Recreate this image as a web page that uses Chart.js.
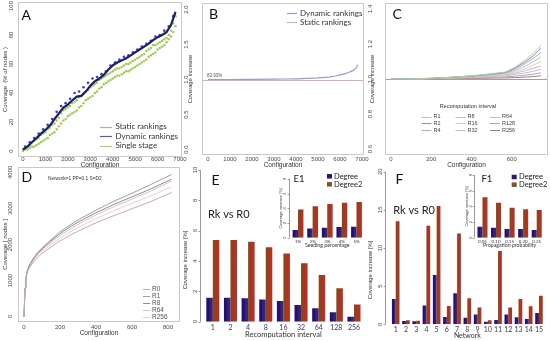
<!DOCTYPE html>
<html><head><meta charset="utf-8">
<script src="https://cdn.jsdelivr.net/npm/chart.js@4.4.1/dist/chart.umd.min.js"></script>
<style>
html,body{margin:0;padding:0;background:#fff;overflow:hidden}
#wrap{position:relative;width:550px;height:341px;background:#fff}
#wrap canvas{position:absolute;left:0;top:0;width:550px;height:341px}
</style></head><body>
<div id="wrap">
<canvas id="cA" width="550" height="341"></canvas>
<canvas id="cB" width="550" height="341"></canvas>
<canvas id="cC" width="550" height="341"></canvas>
<canvas id="cD" width="550" height="341"></canvas>
<canvas id="cE" width="550" height="341"></canvas>
<canvas id="cF" width="550" height="341"></canvas>
<canvas id="cE1" width="550" height="341"></canvas>
<canvas id="cF1" width="550" height="341"></canvas>
</div>
<script>
// ---------------- DATA ----------------
// Panel A
const aConfigs = [0,200,400,600,800,1000,1200,1400,1600,1800,2000,2200,2400,2600,2800,3000,3200,3400,3600,3800,4000,4200,4400,4600,4800,5000,5200,5400,5600,5800,6000,6200,6400,6600,6800];
const aDynamic = [1,3,6,9,12,14.5,17.5,22,26,30,32,35,37.5,38,41,45,48,50,52.5,56,59,61,62.5,64,66,68,70,72,74,76.5,78.5,80,82,87,96];
const aStatic  = [1,3,5.5,8.5,11.5,14,17,21,25,29,31.5,34.5,37,38,40.5,44.5,47.5,49.5,52,55.5,58.5,60.5,62,63.5,65.5,67.5,69.5,71.5,73.5,76,78,79.5,81.5,86,95];
const aDynPtConfigs = [100,300,500,700,900,1100,1300,1500,1700,1900,2100,2300,2500,2700,2900,3100,3300,3500,3700,3900,4100,4300,4500,4700,4900,5100,5300,5500,5700,5900,6100,6300,6500,6700];
const aDynPts = [3,6,9,12,15,18,22,27,31,33,36,40,41,44,47,50,51,53,55,59,61,63,65,66,68,70,72,74,76,79,80,83,86,93];
const aSingleConfigs = [0,100,200,300,400,500,600,700,800,900,1000,1100,1200,1300,1400,1500,1600,1700,1800,1900,2000,2100,2200,2300,2400,2500,2600,2700,2800,2900,3000,3100,3200,3300,3400,3500,3600,3700,3800,3900,4000,4100,4200,4300,4400,4500,4600,4700,4800,4900,5000,5100,5200,5300,5400,5500,5600,5700,5800,5900,6000,6100,6200,6300,6400,6500,6600,6700,6800];
const aSingleUpper = [1,2,3,4,6,7,8,9,11,12,13,15,16,18,19,21,23,26,28,29,30,31,33,34,35,37,38,40,41,42,44,45,46,47,49,50,51,52,53,54,55,56,57,57,58,59,60,60,61,62,63,64,65,66,67,69,70,71,73,73,74,75,76,77,78,80,83,88,93];
const aSingleLower = [0,1,1,2,3,3,4,5,6,7,8,9,11,12,13,15,17,19,21,22,24,25,26,27,28,30,31,33,35,36,37,38,40,41,43,44,46,47,48,49,50,51,52,52,53,54,55,55,56,57,58,59,60,61,62,63,65,66,67,68,70,71,72,73,75,77,79,82,86];
const aXTicks = [0,1000,2000,3000,4000,5000,6000,7000];
const aYTicks = [0,20,40,60,80,100];
const aNames = ['Static rankings','Dynamic rankings','Single stage'];

// Panel B
const bConfigs = [0,1000,2000,3000,3500,4000,4500,5000,5500,5800,6000,6200,6400,6600,6750,6800];
const bDynamic = [1.0,1.0,1.002,1.004,1.007,1.01,1.015,1.022,1.035,1.05,1.065,1.08,1.1,1.13,1.17,1.21];
const bStaticLevel = 1.0;
const bXTicks = [0,1000,2000,3000,4000,5000,6000,7000];
const bYTicks = [0,0.5,1,1.5,2];
const bNames = ['Dynamic rankings','Static rankings'];

// Panel C
const cConfigs = [0,100,200,300,400,500,570,620,670,710,745];
const cR1   = [1.0,1.001,1.004,1.010,1.018,1.030,1.040,1.070,1.110,1.150,1.190];
const cR2   = [1.0,1.001,1.004,1.010,1.017,1.028,1.038,1.065,1.100,1.135,1.175];
const cR4   = [1.0,1.001,1.003,1.009,1.016,1.026,1.035,1.058,1.090,1.120,1.150];
const cR8   = [1.0,1.001,1.003,1.008,1.015,1.024,1.032,1.050,1.075,1.100,1.125];
const cR16  = [1.0,1.000,1.003,1.007,1.013,1.021,1.028,1.042,1.060,1.080,1.100];
const cR32  = [1.0,1.000,1.002,1.006,1.011,1.018,1.024,1.034,1.048,1.062,1.075];
const cR64  = [1.0,1.000,1.002,1.005,1.009,1.014,1.018,1.026,1.035,1.045,1.055];
const cR128 = [1.0,1.000,1.001,1.003,1.006,1.009,1.012,1.016,1.022,1.028,1.035];
const cR256 = [1.0,1.000,1.001,1.002,1.003,1.005,1.006,1.008,1.011,1.014,1.018];
const cNames = ['R1','R2','R4','R8','R16','R32','R64','R128','R256'];
const cBaseLevel = 1.0;
const cXTicks = [0,200,400,600];
const cYTicks = [0.6,0.8,1.0,1.2,1.4];

// Panel D
const dConfigs = [0,3,6,10,15,20,30,40,60,80,100,150,200,250,300,400,500,600,700,820];
const dR0   = [0,400,780,1020,1150,1250,1350,1430,1560,1660,1750,1930,2100,2240,2370,2600,2800,2990,3180,3440];
const dR1   = [0,400,800,1050,1200,1300,1420,1520,1680,1800,1900,2130,2350,2520,2680,2950,3200,3420,3650,3940];
const dR8   = [0,400,800,1050,1200,1300,1420,1510,1660,1780,1880,2100,2300,2470,2620,2880,3110,3320,3530,3810];
const dR64  = [0,400,800,1040,1190,1290,1400,1490,1640,1750,1850,2060,2250,2410,2560,2820,3050,3260,3470,3760];
const dR256 = [0,400,790,1030,1170,1270,1380,1460,1600,1710,1800,2000,2180,2330,2470,2720,2940,3140,3340,3600];
const dNames = ['R0','R1','R8','R64','R256'];
const dXTicks = [0,200,400,600,800];
const dYTicks = [0,1000,2000,3000,4000];

// Panel E
const eIntervals = ['1','2','4','8','16','32','64','128','256'];
const eDegree  = [1.58,1.58,1.54,1.47,1.36,1.10,0.88,0.62,0.33];
const eDegree2 = [5.38,5.38,5.27,4.90,4.50,3.85,3.08,2.20,1.14];
const eYTicks = [0,2,4,6,8,10];
// Panel E1
const e1Seeding = ['1%','2%','3%','4%','5%'];
const e1Degree  = [1.05,1.27,1.36,1.45,1.50];
const e1Degree2 = [3.86,4.30,4.60,4.77,4.86];
const e1YTicks = [0,2,4,6,8];
// Panel F
const fNetworks = ['1','2','3','4','5','6','7','8','9','10','11','12','13','14','15'];
const fDegree  = [3.3,0.44,0.4,2.45,6.46,0.96,4.06,0.87,1.3,0.35,0.57,1.27,0.92,0.7,1.48];
const fDegree2 = [13.5,0.52,0.48,12.9,15.5,2.4,11.9,3.4,2.2,0.52,9.6,2.2,3.3,2.36,3.75];
const fYTicks = [0,5,10,15,20];
// Panel F1
const f1Prob = ['0.05','0.10','0.15','0.20','0.25'];
const f1Degree  = [1.40,1.28,1.10,1.10,0.98];
const f1Degree2 = [5.15,4.47,3.83,3.62,3.53];
const f1YTicks = [0,2,4,6,8];
const barNames = ['Degree','Degree2'];

// ---------------- STYLE / HELPERS ----------------
const RF = "'Liberation Sans', Arial, sans-serif";
const LF = "Lato, 'Open Sans', sans-serif";
const mc = document.createElement('canvas').getContext('2d');
function tw(t, size, fam) { mc.font = size + 'px ' + fam; return mc.measureText(t).width; }
function zeroPad(s) { s.paddingLeft = 0; s.paddingRight = 0; s.paddingTop = 0; s.paddingBottom = 0; }
const pts = (xs, ys) => xs.map((x, i) => ({x: x, y: ys[i]}));

function yAxis(o) {
  const fmt = o.fmt || (v => String(v));
  const fam = o.tFam || RF;
  const wmax = Math.max(...o.ticks.map(v => tw(fmt(v), o.tSize, fam)));
  return {
    type: 'linear', position: 'left', min: o.min, max: o.max,
    grid: {display: false, drawTicks: false}, border: {display: false},
    afterBuildTicks: s => { s.ticks = o.ticks.map(v => ({value: v})); },
    afterFit: s => { s.width = o.right - o.left; zeroPad(s); },
    ticks: {
      autoSkip: false, minRotation: 90, maxRotation: 90, crossAlign: 'center',
      padding: o.right - wmax / 2 - o.tCenter,
      font: {size: o.tSize, family: fam}, color: o.tColor || '#4a4a4a',
      callback: v => fmt(v)
    },
    title: o.title ? {display: true, text: o.title, color: '#333',
      font: {size: o.ttSize, family: o.ttFam || RF},
      padding: {top: o.ttCenter - o.left - o.ttSize * 0.6, bottom: 0}} : {display: false}
  };
}
function xAxis(o) {
  const fmt = o.fmt || (v => String(v));
  const c = {
    type: o.type || 'linear', position: 'bottom',
    grid: {display: false, drawTicks: false}, border: {display: false},
    afterFit: s => { s.height = o.bottom - o.top; zeroPad(s); },
    ticks: {autoSkip: false, minRotation: 0, maxRotation: 0,
      padding: o.tCenter - o.top - o.tSize * 0.6,
      font: {size: o.tSize, family: o.tFam || RF}, color: o.tColor || '#4a4a4a'},
    title: {display: true, text: o.title, color: '#333', font: {size: o.ttSize, family: o.ttFam || RF},
      padding: {top: 0, bottom: o.bottom - o.ttCenter - o.ttSize * 0.6}}
  };
  if (c.type === 'linear') {
    c.min = o.min; c.max = o.max;
    c.afterBuildTicks = s => { s.ticks = o.ticks.map(v => ({value: v})); };
    c.ticks.callback = v => fmt(v);
  } else { c.offset = true; }
  return c;
}

const framePlugin = {id: 'frame', afterDatasetsDraw(ch, a, o) {
  if (!o.on) return;
  const c = ch.ctx, r = ch.chartArea;
  c.save(); c.strokeStyle = '#c9c9c9'; c.lineWidth = 1;
  c.strokeRect(Math.round(r.left) + 0.5, Math.round(r.top) + 0.5, Math.round(r.right - r.left) - 1, Math.round(r.bottom - r.top) - 1);
  c.restore();
}};
const hlinePlugin = {id: 'hline', beforeDatasetsDraw(ch, a, o) {
  if (o.value === undefined) return;
  const y = Math.round(ch.scales.y.getPixelForValue(o.value)) + 0.5, r = ch.chartArea, c = ch.ctx;
  c.save(); c.strokeStyle = o.color; c.lineWidth = 1;
  c.beginPath(); c.moveTo(r.left, y); c.lineTo(r.right, y); c.stroke(); c.restore();
}};
const axisLinePlugin = {id: 'axisline', afterDraw(ch, a, o) {
  if (o.offset === undefined) return;
  const ys = ch.scales.y, x = Math.round(ch.chartArea.left - o.offset) + 0.5, c = ch.ctx;
  const t = ys.ticks;
  c.save(); c.strokeStyle = '#9a9a9a'; c.lineWidth = 1; c.beginPath();
  c.moveTo(x, ys.getPixelForValue(t[0].value)); c.lineTo(x, ys.getPixelForValue(t[t.length - 1].value));
  t.forEach(tk => { const y = Math.round(ys.getPixelForValue(tk.value)) + 0.5; c.moveTo(x, y); c.lineTo(x - 2, y); });
  c.stroke(); c.restore();
}};
const textPlugin = {id: 'rtext', afterDraw(ch, a, o) {
  (o.items || []).forEach(it => {
    const c = ch.ctx; c.save();
    c.font = it.size + 'px ' + (it.fam || RF);
    c.fillStyle = it.color || '#222';
    c.textAlign = it.align || 'left'; c.textBaseline = it.base || 'middle';
    c.translate(it.x, it.y); if (it.rot) c.rotate(it.rot * Math.PI / 180);
    c.fillText(it.text, 0, 0); c.restore();
  });
}};
const legendPlugin = {id: 'rlegend', afterDraw(ch, a, o) {
  (o.items || []).forEach(it => {
    const c = ch.ctx; c.save();
    if (it.kind === 'box') { c.fillStyle = it.color; c.fillRect(it.sx, it.y - it.sh / 2, it.sw, it.sh); }
    else { c.strokeStyle = it.color; c.lineWidth = it.lw || 1; c.beginPath();
      c.moveTo(it.sx, Math.round(it.y) + 0.5); c.lineTo(it.sx + it.sw, Math.round(it.y) + 0.5); c.stroke(); }
    c.font = it.size + 'px ' + (it.fam || RF); c.fillStyle = it.tcolor || '#333';
    c.textAlign = 'left'; c.textBaseline = 'middle';
    c.fillText(it.text, it.tx, it.y); c.restore();
  });
}};
const PLUGS = [framePlugin, hlinePlugin, axisLinePlugin, textPlugin, legendPlugin];

function mk(id, type, data, scales, pad, popts) {
  return new Chart(document.getElementById(id), {
    type: type, data: data,
    options: {
      responsive: false, animation: false, devicePixelRatio: 1, events: [],
      layout: {padding: pad, autoPadding: false},
      scales: scales,
      plugins: Object.assign({legend: {display: false}, tooltip: {enabled: false}}, popts)
    },
    plugins: PLUGS
  });
}
function letter(t, x, y) { return {text: t, x: x, y: y, size: 14, fam: LF, color: '#111', base: 'alphabetic'}; }

// bar gradient (two-tone like the reference bars)
const CAT_PCT = 0.74;
function grad(c1, c2, di) {
  return function (ctx) {
    const ch = ctx.chart, xs = ch.scales.x;
    if (ctx.type !== 'data' || !xs || !ch.chartArea) return c1;
    const n = ch.data.labels.length;
    const cw = xs.width / n * CAT_PCT;
    const cx = xs.getPixelForValue(ctx.dataIndex);
    const x0 = cx - cw / 2 + di * cw / 2, x1 = x0 + cw / 2;
    const g = ch.ctx.createLinearGradient(x0, 0, x1, 0);
    g.addColorStop(0, c1); g.addColorStop(0.35, c1); g.addColorStop(0.65, c2); g.addColorStop(1, c2);
    return g;
  };
}
const DEG = ['#20136c', '#3a1f84'];
const DEG2 = ['#7c4a24', '#c9281d'];
function barSets(d1, d2) {
  return [
    {label: barNames[0], data: d1, backgroundColor: grad(DEG[0], DEG[1], 0), borderWidth: 0, categoryPercentage: CAT_PCT, barPercentage: 1},
    {label: barNames[1], data: d2, backgroundColor: grad(DEG2[0], DEG2[1], 1), borderWidth: 0, categoryPercentage: CAT_PCT, barPercentage: 1}
  ];
}
function barLegend(sx, y0, y1, tx) {
  return [
    {kind: 'box', color: '#2a1876', sx: sx, sw: 5, sh: 4.5, y: y0, tx: tx, text: barNames[0], size: 7.5, fam: LF, tcolor: '#222'},
    {kind: 'box', color: '#84502a', sx: sx, sw: 5, sh: 4.5, y: y1, tx: tx, text: barNames[1], size: 7.5, fam: LF, tcolor: '#222'}
  ];
}

// ---------------- PANEL A ----------------
const aCols = ['#c2a6b4', '#5a5ab0', '#a9d36a'];
mk('cA', 'scatter', {datasets: [
  {data: pts(aConfigs, aDynamic), showLine: true, borderColor: '#1d1f6b', borderWidth: 2.2, pointRadius: 0},
  {data: pts(aDynPtConfigs, aDynPts), pointRadius: 1.3, pointBackgroundColor: '#3d3dc6', pointBorderWidth: 0},
  {data: pts(aConfigs, aStatic), showLine: true, borderColor: '#b9a3b5', borderWidth: 1, pointRadius: 0},
  {data: pts(aSingleConfigs, aSingleUpper).concat(pts(aSingleConfigs, aSingleLower)), pointRadius: 1.2, pointBackgroundColor: '#9acb4c', pointBorderWidth: 0}
]}, {
  x: xAxis({top: 157, bottom: 170, min: -222.9, max: 7089.2, ticks: aXTicks, tSize: 6, tCenter: 159.7, title: 'Configuration', ttSize: 6.5, ttCenter: 165.3}),
  y: yAxis({left: 0, right: 18, min: -4.14, max: 102.76, ticks: aYTicks, tSize: 6, tCenter: 11.7, title: 'Coverage  (% of nodes )', ttSize: 6, ttCenter: 5})
}, {left: 0, top: 2, right: 368, bottom: 171}, {
  frame: {on: true},
  rtext: {items: [letter('A', 21.5, 19.5)]},
  rlegend: {items: aNames.map((n, i) => ({kind: 'line', color: aCols[i], lw: 1.2, sx: 100, sw: 12, y: [126.7, 136.3, 145.7][i], tx: 115.5, text: n, size: 8, fam: LF, tcolor: '#333'}))}
});

// ---------------- PANEL B ----------------
const bCols = ['#9b99d6', '#d3b3aa'];
mk('cB', 'scatter', {datasets: [
  {data: pts(bConfigs, bDynamic), showLine: true, borderColor: bCols[0], borderWidth: 1.2, pointRadius: 0}
]}, {
  x: xAxis({top: 155, bottom: 170, min: -272.7, max: 7090.9, ticks: bXTicks, tSize: 6, tCenter: 159.2, title: 'Configuration', ttSize: 6.5, ttCenter: 165.7}),
  y: yAxis({left: 180, right: 202, min: -0.0786, max: 2.093, ticks: bYTicks, fmt: v => v.toFixed(1), tSize: 6, tCenter: 186.5, title: 'Coverage increase', ttSize: 5.8, ttCenter: 190})
}, {left: 180, top: 3, right: 186, bottom: 171}, {
  frame: {on: true},
  hline: {value: bStaticLevel, color: bCols[1]},
  rtext: {items: [letter('B', 209, 19.3), {text: '83.93%', x: 207, y: 76, size: 4.5, color: '#555'}]},
  rlegend: {items: bNames.map((n, i) => ({kind: 'line', color: bCols[i], lw: 1.2, sx: 287, sw: 10, y: [13.3, 22.3][i], tx: 300, text: n, size: 8, fam: LF, tcolor: '#333'}))}
});

// ---------------- PANEL C ----------------
const cSeries = [cR1, cR2, cR4, cR8, cR16, cR32, cR64, cR128, cR256];
const cCols = ['#a6d49a', '#8592b5', '#b6a6c9', '#b6bfd9', '#c7e0a4', '#d9aebf', '#c3b8dc', '#aaaaaa', '#94839f'];
mk('cC', 'scatter', {datasets: cSeries.map((s, i) => ({data: pts(cConfigs, s), showLine: true, borderColor: cCols[i], borderWidth: 1, pointRadius: 0}))}, {
  x: xAxis({top: 155, bottom: 170, min: -29.8, max: 780.3, ticks: cXTicks, tSize: 6, tCenter: 159.3, title: 'Configuration', ttSize: 6.5, ttCenter: 165.7}),
  y: yAxis({left: 365, right: 385, min: 0.5657, max: 1.434, ticks: cYTicks, fmt: v => v.toFixed(1), tSize: 6, tCenter: 370.5, title: 'Coverage increase', ttSize: 5.8, ttCenter: 372})
}, {left: 365, top: 3, right: 2, bottom: 171}, {
  frame: {on: true},
  hline: {value: cBaseLevel, color: '#c7957f'},
  rtext: {items: [letter('C', 392.5, 19.3), {text: 'Recomputation interval', x: 468, y: 106, size: 5.5, align: 'center', color: '#333'}]},
  rlegend: {items: cNames.map((n, i) => {
    const col = Math.floor(i / 3), row = i % 3;
    const sx = [421.5, 455.5, 490][col];
    return {kind: 'line', color: cCols[i], sx: sx, sw: 10, y: [116.7, 123.3, 130][row], tx: sx + 12, text: n, size: 5.5, tcolor: '#444'};
  })}
});

// ---------------- PANEL D ----------------
const dSeries = [dR0, dR1, dR8, dR64, dR256];
const dCols = ['#c9a9b9', '#9e9ea8', '#8b88b3', '#d9c6a2', '#f0ccd6'];
mk('cD', 'scatter', {datasets: dSeries.map((s, i) => ({data: pts(dConfigs, s), showLine: true, borderColor: dCols[i], borderWidth: 1, pointRadius: 0}))}, {
  x: xAxis({top: 322, bottom: 341, min: -33.3, max: 866.7, ticks: dXTicks, tSize: 6, tCenter: 327.5, title: 'Configuration', ttSize: 6.5, ttCenter: 333.3}),
  y: yAxis({left: 0, right: 18, min: -146.8, max: 4146.8, ticks: dYTicks, tSize: 6, tCenter: 10.7, title: 'Coverage [ nodes ]', ttSize: 6, ttCenter: 5})
}, {left: 0, top: 167, right: 370, bottom: 0}, {
  frame: {on: true},
  rtext: {items: [letter('D', 21.5, 182.3), {text: 'Network=1 PP=0.1 S=D2', x: 48, y: 179, size: 4.8, color: '#333'}]},
  rlegend: {items: dNames.map((n, i) => ({kind: 'line', color: dCols[i], sx: 143, sw: 7, y: 289 + i * 7, tx: 152, text: n, size: 6.5, tcolor: '#555'}))}
});

// ---------------- PANEL E ----------------
mk('cE', 'bar', {labels: eIntervals, datasets: barSets(eDegree, eDegree2)}, {
  x: xAxis({type: 'category', top: 321.7, bottom: 341, tSize: 7, tFam: LF, tColor: '#3a3a55', tCenter: 328, title: 'Recomputation interval', ttSize: 7.5, ttFam: LF, ttCenter: 334.3}),
  y: yAxis({left: 180, right: 204, min: 0, max: 10, ticks: eYTicks, tSize: 6, tCenter: 195})
}, {left: 180, top: 170, right: 187.2, bottom: 0}, {
  axisline: {offset: 4},
  rtext: {items: [letter('E', 211.5, 185),
    {text: 'Rk vs R0', x: 208, y: 214, size: 11, fam: LF, color: '#222'},
    {text: 'Coverage increase [%]', x: 185.5, y: 260, size: 5.8, rot: -90, align: 'center', color: '#333'},
    {text: 'E1', x: 293.5, y: 178.5, size: 9.5, fam: LF, color: '#222'}]},
  rlegend: {items: barLegend(327, 176.3, 184.3, 334)}
});

// ---------------- PANEL F ----------------
mk('cF', 'bar', {labels: fNetworks, datasets: barSets(fDegree, fDegree2)}, {
  x: xAxis({type: 'category', top: 324.3, bottom: 341, tSize: 7, tFam: LF, tColor: '#3a3a55', tCenter: 329.3, title: 'Network', ttSize: 7, ttFam: LF, ttCenter: 335.3}),
  y: yAxis({left: 365, right: 390.6, min: 0, max: 20, ticks: fYTicks, tSize: 6, tCenter: 380})
}, {left: 365, top: 171.7, right: 5.9, bottom: 0}, {
  axisline: {offset: 5.5},
  rtext: {items: [letter('F', 395.5, 184.3),
    {text: 'Rk vs R0', x: 393.3, y: 210.7, size: 11, fam: LF, color: '#222'},
    {text: 'Coverage increase [%]', x: 370, y: 270, size: 5.8, rot: -90, align: 'center', color: '#333'},
    {text: 'F1', x: 481.5, y: 178.5, size: 9.5, fam: LF, color: '#222'}]},
  rlegend: {items: barLegend(511.7, 177, 184.7, 519)}
});

// ---------------- INSETS ----------------
mk('cE1', 'bar', {labels: e1Seeding, datasets: barSets(e1Degree, e1Degree2)}, {
  x: xAxis({type: 'category', top: 237.7, bottom: 250, tSize: 4.5, tFam: LF, tColor: '#3a3a55', tCenter: 241.7, title: 'Seeding percentage', ttSize: 5.2, ttFam: LF, ttCenter: 245.6}),
  y: yAxis({left: 276, right: 290.7, min: 0, max: 8, ticks: e1YTicks, tSize: 4, tCenter: 285, title: 'Coverage increase [%]', ttSize: 4, ttCenter: 281})
}, {left: 276, top: 179, right: 186.2, bottom: 91}, {axisline: {offset: 1.8}});

mk('cF1', 'bar', {labels: f1Prob, datasets: barSets(f1Degree, f1Degree2)}, {
  x: xAxis({type: 'category', top: 237.7, bottom: 250, tSize: 4.5, tFam: LF, tColor: '#3a3a55', tCenter: 241.7, title: 'Propagation probability', ttSize: 5.2, ttFam: LF, ttCenter: 245.7}),
  y: yAxis({left: 460, right: 475.7, min: 0, max: 8, ticks: f1YTicks, tSize: 4, tCenter: 471, title: 'Coverage increase [%]', ttSize: 4, ttCenter: 466.7})
}, {left: 460, top: 175, right: 6.5, bottom: 91}, {axisline: {offset: 1.5}});
</script>
</body></html>
